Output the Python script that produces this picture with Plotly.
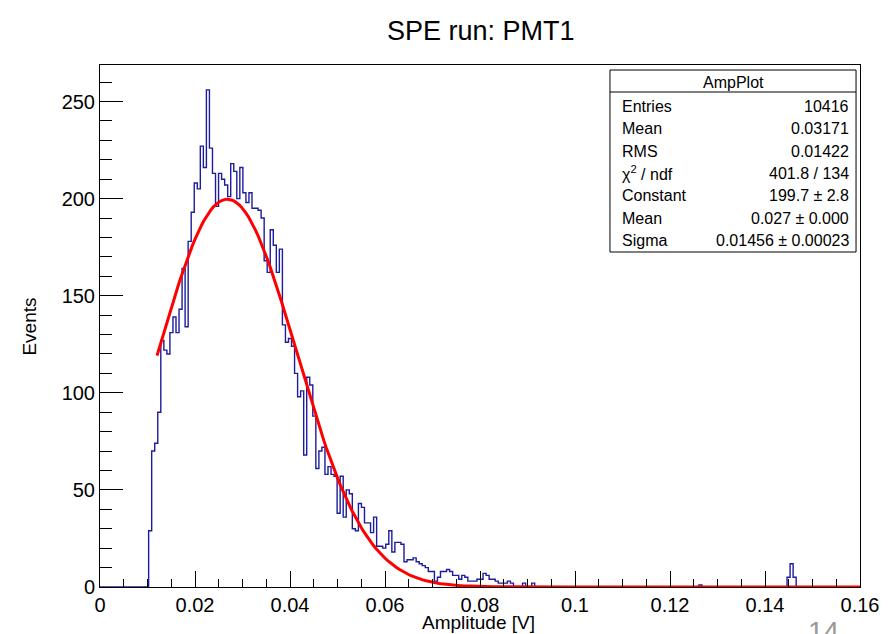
import numpy as np
import plotly.graph_objects as go

# ---------------- data ----------------
x_min, x_max = 0.0, 0.16
n_bins = 250                      # histogram binning over the axis range
first_bin = 16                    # index of first entry in counts_main
counts_main = [
    29, 70, 74, 90, 127, 122, 120, 131, 139, 131,
    143, 164, 134, 178, 193, 208, 205, 227, 216, 256,
    226, 213, 196, 213, 210, 207, 201, 218, 214, 200,
    216, 203, 198, 203, 195, 195, 194, 190, 168, 162,
    184, 176, 162, 174, 135, 126, 128, 124, 110, 98,
    101, 68, 108, 104, 88, 61, 70, 72, 58, 62,
    58, 57, 38, 57, 36, 50, 48, 30, 29, 43,
    41, 33, 33, 28, 36, 21, 21, 20, 22, 29,
    18, 23, 23, 22, 13, 14, 14, 15, 13, 12,
    11, 10, 8, 8, 3, 5, 8, 8, 9, 8,
    6, 6, 4, 6, 5, 3, 3, 3, 4, 4,
    7, 6, 4, 4, 3, 2, 2, 2, 3, 2,
    0, 0, 0, 2, 0, 0, 2,
]
outlier_bins = [197, 226, 227, 228]
outlier_counts = [1, 5, 12, 5]

# Gaussian fit parameters (from the stats box)
fit_const = 199.7
fit_mean = 0.0268
fit_sigma = 0.01456
fit_range = (0.012, 0.16)

stats_title = "AmpPlot"
stats_labels = ["Entries", "Mean", "RMS", "χ<sup>2</sup> / ndf", "Constant", "Mean", "Sigma"]
stats_values = ["10416", "0.03171", "0.01422", "401.8 / 134", "199.7 ± 2.8",
                "0.027 ± 0.000", "0.01456 ± 0.00023"]

x_ticks = [0, 0.02, 0.04, 0.06, 0.08, 0.1, 0.12, 0.14, 0.16]
x_tick_text = ["0", "0.02", "0.04", "0.06", "0.08", "0.1", "0.12", "0.14", "0.16"]
y_ticks = [0, 50, 100, 150, 200, 250]

# ---------------- build histogram ----------------
counts = np.zeros(n_bins)
counts[first_bin:first_bin + len(counts_main)] = counts_main
for b, c in zip(outlier_bins, outlier_counts):
    counts[b] = c
edges = np.linspace(x_min, x_max, n_bins + 1)
step_y = np.append(counts, counts[-1])
y_max = counts.max() * 1.05

fx = np.linspace(fit_range[0], fit_range[1], 300)
fy = fit_const * np.exp(-0.5 * ((fx - fit_mean) / fit_sigma) ** 2)

FONT = "Liberation Sans, Arial, Helvetica, sans-serif"
W, H = 891, 634
L, R, T, B = 100, 25, 65, 47
PW, PH = W - L - R, H - T - B

def px(xp):
    return (xp - L) / PW

def py(yp):
    return (H - B - yp) / PH

fig = go.Figure()
fig.add_trace(go.Scatter(x=edges, y=step_y, mode="lines", line_shape="hv",
                         line=dict(color="#1c1c9e", width=1.4), hoverinfo="skip"))
fig.add_trace(go.Scatter(x=fx, y=fy, mode="lines",
                         line=dict(color="#ff0000", width=3), hoverinfo="skip"))

axis_common = dict(showgrid=False, zeroline=False, showline=True, linecolor="black",
                   linewidth=1, mirror=True, ticks="inside", tickcolor="black",
                   tickwidth=1, tickfont=dict(family=FONT, size=20, color="black"))
fig.update_xaxes(range=[x_min, x_max], tickvals=x_ticks, ticktext=x_tick_text,
                 ticklen=16, minor=dict(ticks="inside", ticklen=8, dtick=0.005,
                                        tickcolor="black", tickwidth=1),
                 **axis_common)
fig.update_yaxes(range=[0, y_max], tickvals=y_ticks, ticklen=23,
                 minor=dict(ticks="inside", ticklen=11.5, dtick=10,
                            tickcolor="black", tickwidth=1),
                 **axis_common)

shapes = [
    dict(type="rect", xref="paper", yref="paper", x0=px(614), x1=px(862),
         y0=py(252), y1=py(70), line=dict(color="black", width=1), fillcolor="white",
         layer="above"),
    dict(type="line", xref="paper", yref="paper", x0=px(614), x1=px(862),
         y0=py(92), y1=py(92), line=dict(color="black", width=1), layer="above"),
]

ann = [
    dict(text="SPE run: PMT1", x=px(484), y=py(31), xref="paper", yref="paper",
         showarrow=False, font=dict(family=FONT, size=27, color="black"),
         xanchor="center", yanchor="middle"),
    dict(text="Amplitude [V]", x=px(481), y=py(622), xref="paper", yref="paper",
         showarrow=False, font=dict(family=FONT, size=19, color="black"),
         xanchor="center", yanchor="middle"),
    dict(text="Events", x=px(28), y=py(327), xref="paper", yref="paper",
         showarrow=False, textangle=-90, font=dict(family=FONT, size=19, color="black"),
         xanchor="center", yanchor="middle"),
    dict(text=stats_title, x=px(738), y=py(82), xref="paper", yref="paper",
         showarrow=False, font=dict(family=FONT, size=16, color="black"),
         xanchor="center", yanchor="middle"),
    dict(text="14", x=px(829), y=py(614), xref="paper", yref="paper",
         showarrow=False, font=dict(family=FONT, size=28, color="#9a9a9a"),
         xanchor="center", yanchor="top"),
]
for i, (lab, val) in enumerate(zip(stats_labels, stats_values)):
    yy = 106.5 + 22.3 * i
    ann.append(dict(text=lab, x=px(624), y=py(yy), xref="paper", yref="paper",
                    showarrow=False, font=dict(family=FONT, size=16, color="black"),
                    xanchor="left", yanchor="middle"))
    ann.append(dict(text=val, x=px(857), y=py(yy), xref="paper", yref="paper",
                    showarrow=False, font=dict(family=FONT, size=16, color="black"),
                    xanchor="right", yanchor="middle"))

fig.update_layout(width=W, height=H, margin=dict(l=L, r=R, t=T, b=B),
                  paper_bgcolor="white", plot_bgcolor="white", showlegend=False,
                  shapes=shapes, annotations=ann)

fig.write_html("out.html", config={"displayModeBar": False})
